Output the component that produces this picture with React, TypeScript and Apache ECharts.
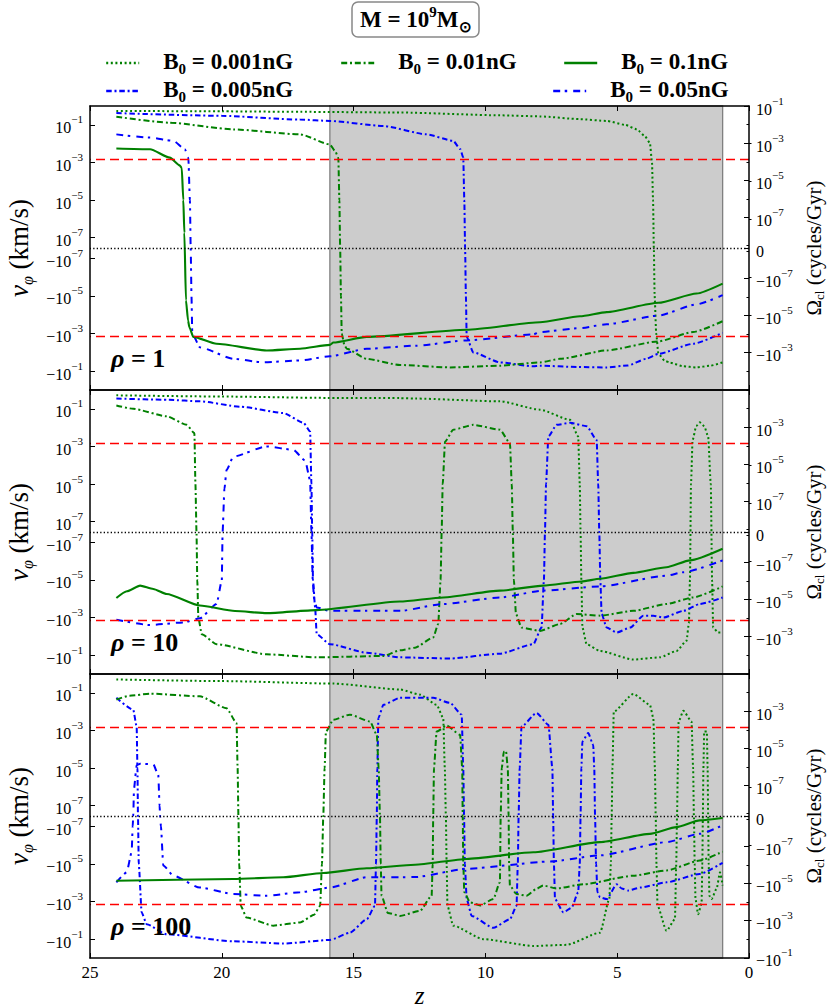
import React, { useEffect, useRef } from "react";
import * as echarts from "echarts";

type Pt = [number, number];

const FONT = "Liberation Serif";
const GREEN = "#008000";
const BLUE = "#0000ff";

// ---------- x axis ----------
const X_MIN = 0;
const X_MAX = 25;
const X_STEP = 5;
const SHADE_FROM = 15.9;
const SHADE_TO = 1.0;
const RED_LEVEL = 1.45e-3;

// ---------- tick values ----------
const LEFT_MAJOR = [1e-1, 1e-3, 1e-5, 1e-7, -1e-7, -1e-5, -1e-3, -1e-1];
const LEFT_MINOR = [1e-2, 1e-4, 1e-6, -1e-6, -1e-4, -1e-2];
const RIGHT_MAJOR_1 = [1e-1, 1e-3, 1e-5, 1e-7, 0, -1e-7, -1e-5, -1e-3];
const RIGHT_MAJOR_2 = [1e-3, 1e-5, 1e-7, 0, -1e-7, -1e-5, -1e-3];
const RIGHT_MAJOR_3 = [1e-3, 1e-5, 1e-7, 0, -1e-7, -1e-5, -1e-3, -1e-1];
const RIGHT_MINOR = [1e-1, 1e-2, 1e-4, 1e-6, 1e-8, -1e-8, -1e-6, -1e-4, -1e-2, -1e-1];

// ---------- legend ----------
const B_VALUES = ["0.001", "0.01", "0.1", "0.005", "0.05"];

// ---------- data: [z, v_phi (km/s)] ----------
// rho = 1
const rho1_B0001: Pt[] = [[24, 0.55], [20, 0.52], [17, 0.49], [13.2, 0.45], [9.45, 0.32], [7.93, 0.28], [6.41, 0.2], [5.4, 0.16], [4.7, 0.1], [4.26, 0.058], [3.95, 0.025], [3.76, 0.011], [3.68, 1e-3], [3.64, 1e-5], [3.61, 0], [3.58, -1e-5], [3.52, -1e-3], [3.44, -0.0115], [3.2, -0.028], [3.0, -0.035], [2.5, -0.055], [1.99, -0.063], [1.5, -0.052], [1.0, -0.034]];
const rho1_B0005: Pt[] = [[24, 0.42], [20, 0.3], [17.03, 0.19], [15.9, 0.16], [13.87, 0.087], [12.23, 0.031], [11.22, 0.014], [10.95, 5e-3], [10.84, 1.8e-3], [10.8, 1e-5], [10.77, 0], [10.74, -1e-5], [10.71, -1.5e-3], [10.46, -0.01], [9.45, -0.034], [8.18, -0.055], [7.93, -0.051], [6.5, -0.06], [5.4, -0.063], [4.6, -0.05], [3.9, -0.022], [3.44, -0.012], [2.12, -3.5e-3], [1.0, -9.1e-4]];
const rho1_B001: Pt[] = [[24, 0.27], [22, 0.13], [19.56, 0.057], [17.03, 0.031], [15.9, 9e-3], [15.7, 4e-3], [15.58, 1.8e-3], [15.54, 1e-5], [15.51, 0], [15.48, -1e-5], [15.45, -1e-3], [15.35, -4e-3], [15.26, -6.4e-3], [14.5, -0.022], [13.24, -0.047], [11.34, -0.063], [9.45, -0.051], [7.93, -0.034], [7.17, -0.022], [5.4, -7.9e-3], [3.44, -2.6e-3], [2.12, -8.3e-4], [1.0, -2.2e-4]];
const rho1_B005: Pt[] = [[24, 0.031], [22.72, 0.021], [21.84, 0.014], [21.4, 5e-3], [21.27, 1.8e-3], [21.21, 1e-5], [21.18, 0], [21.15, -1e-5], [21.12, -1e-3], [20.83, -5.4e-3], [19.56, -0.022], [18.43, -0.034], [17.03, -0.027], [15.9, -0.016], [14.5, -6.4e-3], [12.61, -4.4e-3], [10.71, -2.3e-3], [8.18, -1.1e-3], [7.93, -8.3e-4], [6.41, -5.1e-4], [5.4, -3.2e-4], [3.44, -1.1e-4], [1.99, -2.8e-5], [1.0, -9.1e-6]];
const rho1_B01: Pt[] = [[24, 5.5e-3], [22.72, 5e-3], [21.97, 1.8e-3], [21.6, 7e-4], [21.52, 5.1e-4], [21.46, 1e-5], [21.42, 1.8e-7], [21.36, -1.7e-5], [21.28, -2e-4], [21.23, -4.6e-4], [21.08, -1.5e-3], [20.2, -3.5e-3], [18.3, -7.9e-3], [17.03, -6.4e-3], [15.9, -4e-3], [15.77, -3e-3], [14.5, -1.5e-3], [10.71, -6.3e-4], [7.93, -2.5e-4], [6.41, -1.2e-4], [5.4, -7.2e-5], [3.44, -2.3e-5], [1.99, -7.4e-6], [1.0, -2.2e-6]];

// rho = 10
const rho10_B0001: Pt[] = [[24, 0.52], [20, 0.45], [16, 0.38], [13.24, 0.37], [12.67, 0.35], [9.45, 0.25], [7.93, 0.09], [6.79, 0.026], [6.48, 3.4e-3], [6.42, 1e-5], [6.39, 0], [6.36, -1e-5], [6.32, -3.4e-3], [6.16, -0.026], [5.65, -0.06], [4.39, -0.17], [3.38, -0.13], [2.75, -0.06], [2.37, -0.017], [2.28, -2e-3], [2.24, -1e-5], [2.2, 1e-5], [2.14, 2.2e-3], [2.0, 0.012], [1.87, 0.019], [1.7, 0.012], [1.55, 3.4e-3], [1.45, 1e-5], [1.4, -1e-5], [1.36, -3.4e-3], [1.17, -6.3e-3], [1.0, -6.3e-3]];
const rho10_B0005: Pt[] = [[24, 0.35], [22, 0.3], [20.83, 0.25], [19.3, 0.13], [17.67, 0.06], [16.9, 0.018], [16.65, 6.3e-3], [16.6, 1e-5], [16.57, 0], [16.54, -1e-5], [16.46, -2.9e-4], [16.4, -7.6e-3], [15.9, -0.026], [14.5, -0.074], [13.24, -0.13], [11.34, -0.15], [9.45, -0.083], [8.18, -0.026], [7.87, -3.4e-3], [7.78, -1e-5], [7.74, 0], [7.7, 1e-5], [7.61, 3.4e-3], [7.3, 0.014], [6.79, 0.018], [6.16, 0.012], [5.78, 2.2e-3], [5.72, 1e-5], [5.68, 0], [5.64, -1e-5], [5.59, -6.5e-4], [5.4, -3.4e-3], [5.02, -6.3e-3], [4.51, -3.4e-3], [4.01, -7.9e-4], [3.63, -7.9e-4], [3.25, -1e-3], [2.49, -4.4e-4], [1.87, -1.9e-4], [1.0, -8.5e-5]];
const rho10_B001: Pt[] = [[24, 0.15], [23.36, 0.1], [22.09, 0.04], [21.33, 0.014], [21.04, 5.1e-3], [21.0, 1e-5], [20.96, 0], [20.93, -1e-5], [20.89, -1e-3], [20.76, -7.6e-3], [20.2, -0.026], [18.3, -0.09], [16.4, -0.13], [13.87, -0.11], [13.24, -0.055], [12.67, -0.04], [11.98, -0.0115], [11.79, -2.2e-3], [11.7, -1e-5], [11.66, 0], [11.62, 1e-5], [11.53, 1.8e-3], [11.22, 7.8e-3], [10.46, 0.014], [9.45, 7.8e-3], [9.07, 1.5e-3], [9.0, 1e-5], [8.96, 0], [8.92, -1e-5], [8.84, -6.5e-4], [8.63, -3.4e-3], [7.93, -5.1e-3], [7.17, -2.2e-3], [6.54, -6.5e-4], [5.65, -7.9e-4], [4.39, -4.4e-4], [3.13, -1.9e-4], [2.12, -8.5e-5], [1.0, -2.2e-5]];
const rho10_B005: Pt[] = [[24, -1.3e-3], [22.72, -2.5e-3], [21.46, -1.8e-3], [20.83, -1.1e-3], [20.2, -1.9e-4], [20.0, -1.1e-5], [19.97, 0], [19.9, 5.6e-6], [19.82, 5.6e-5], [19.56, 2.9e-4], [18.3, 1e-3], [17.29, 6.6e-4], [16.84, 1.8e-4], [16.65, 1.6e-5], [16.6, 0], [16.55, -1e-5], [16.5, -1e-4], [16.4, -2.9e-4], [15.9, -4.4e-4], [14.5, -4.4e-4], [13.24, -4.4e-4], [11.6, -1.9e-4], [9.45, -8.5e-5], [7.81, -3.7e-5], [5.65, -2.2e-5], [3.13, -5.9e-6], [2.49, -3.9e-6], [1.0, -9.1e-7]];
const rho10_B01: Pt[] = [[24, -9.1e-5], [23.6, -4e-5], [23.1, -2e-5], [22.6, -3e-5], [22.09, -5.6e-5], [20.83, -2.3e-4], [19.5, -4.5e-4], [18.3, -5.8e-4], [16.4, -4e-4], [13.24, -1.4e-4], [11.6, -8.5e-5], [9.45, -3.7e-5], [7.81, -2e-5], [6.35, -1.2e-5], [5.65, -8.7e-6], [4.39, -4.2e-6], [3.13, -2.1e-6], [2.24, -9.1e-7], [1.0, -2.2e-7]];

// rho = 100
const rho100_B0001: Pt[] = [[24, 0.51], [20, 0.42], [15.77, 0.31], [13.24, 0.15], [12.48, 0.08], [11.85, 0.023], [11.6, 4.6e-3], [11.54, 1e-5], [11.5, 0], [11.47, -1e-5], [11.44, -1.7e-3], [11.22, -0.019], [10.08, -0.1], [8.18, -0.23], [6.92, -0.2], [5.65, -0.045], [5.3, -7.4e-4], [5.24, -1e-5], [5.21, 0], [5.18, 1e-5], [5.13, 0.01], [4.39, 0.087], [3.76, 0.023], [3.63, 4.6e-3], [3.57, 1e-5], [3.54, 0], [3.51, -1e-5], [3.47, -1.7e-3], [3.13, -0.036], [2.81, -8.7e-3], [2.76, -1e-5], [2.73, 0], [2.7, 1e-5], [2.67, 3e-3], [2.49, 0.011], [2.18, 3e-3], [2.12, 1e-5], [2.09, 0], [2.06, -1e-5], [2.03, -7.4e-4], [1.93, -4.7e-3], [1.8, -1.3e-3], [1.77, -1e-5], [1.75, 0], [1.73, 1e-5], [1.7, 8.7e-4], [1.6, 8.7e-4], [1.57, 1e-5], [1.55, 0], [1.53, -1e-5], [1.5, -5e-4], [1.42, -7.4e-4], [1.23, -2.1e-4], [1.1, -2.8e-5], [1.0, -1.4e-4]];
const rho100_B0005: Pt[] = [[24, 0.054], [23.36, 0.0126], [23.23, 1.6e-3], [23.2, 1e-5], [23.18, 0], [23.15, -1e-5], [23.04, -3.8e-3], [22.85, -0.016], [22.09, -0.055], [19.56, -0.13], [17.67, -0.17], [15.9, -0.11], [15.14, -0.045], [14.5, -8.7e-3], [14.19, -1.7e-3], [14.15, -1e-5], [14.12, 0], [14.1, 1e-5], [14.06, 4.6e-3], [13.87, 0.023], [13.24, 0.054], [11.98, 0.054], [11.34, 0.029], [10.9, 6.9e-3], [10.84, 1e-5], [10.81, 0], [10.78, -1e-5], [10.71, -7.4e-4], [10.52, -5.8e-3], [9.7, -0.025], [9.07, -8.7e-3], [8.82, -1.7e-3], [8.77, -1e-5], [8.74, 0], [8.7, 1e-5], [8.63, 1.6e-3], [8.06, 8.5e-3], [7.61, 2e-3], [7.46, 1e-5], [7.43, 0], [7.4, -1e-5], [7.36, -7.4e-4], [7.04, -3.8e-3], [6.73, -2.1e-3], [6.48, -3.2e-4], [6.42, -1e-5], [6.39, 0], [6.36, 1e-5], [6.32, 2.6e-4], [6.1, 7.2e-4], [5.91, 1.7e-4], [5.87, 1e-5], [5.84, 0], [5.8, -1e-5], [5.75, -3.2e-4], [5.65, -6e-4], [5.4, -7.4e-4], [5.02, -1.2e-4], [4.83, -2e-4], [4.58, -2.6e-4], [4.13, -1.8e-4], [3.13, -9.5e-5], [1.87, -3.4e-5], [1.0, -8.7e-6]];
const rho100_B001: Pt[] = [[24, 0.044], [23.5, 0.07], [22.72, 0.09], [20.83, 0.065], [19.82, 0.015], [19.44, 2.5e-3], [19.4, 1e-5], [19.37, 0], [19.34, -1e-5], [19.28, -1.7e-3], [19.06, -7.1e-3], [18.05, -0.019], [17.03, -0.013], [16.5, -5e-3], [16.27, -1.7e-3], [16.2, -1e-5], [16.15, 0], [16.1, 1e-5], [16.05, 8.7e-4], [15.77, 3.7e-3], [15.14, 6.9e-3], [14.38, 3e-3], [14.12, 5.9e-4], [14.05, 1e-5], [14.0, 0], [13.97, -1e-5], [13.94, -4.9e-4], [13.7, -4e-3], [13.24, -5.8e-3], [12.48, -3.1e-3], [12.04, -4.9e-4], [12.0, -1e-5], [11.98, 0], [11.95, 1e-5], [11.85, 8.7e-4], [11.47, 1.8e-3], [10.96, 5.9e-4], [10.88, 1e-5], [10.86, 0], [10.84, -1e-5], [10.8, -3.2e-4], [10.58, -1.1e-3], [10.2, -1.6e-3], [9.7, -7.4e-4], [9.45, -9.5e-5], [9.42, 0], [9.38, 1e-5], [9.3, 7.4e-5], [9.22, 8.2e-5], [9.15, 1e-5], [9.12, 0], [9.1, -1e-5], [9.07, -1.4e-4], [8.82, -4e-4], [8.44, -4.9e-4], [8.06, -2.1e-4], [7.81, -1.4e-4], [7.3, -2e-4], [6.29, -1.2e-4], [4.39, -4.2e-5], [3.13, -2.2e-5], [1.87, -6.6e-6], [1.0, -2.2e-6]];
const rho100_B005: Pt[] = [[24, -9.5e-5], [23.61, -2.8e-5], [23.42, -2.4e-6], [23.38, -1e-7], [23.36, 0], [23.33, 8.3e-7], [23.23, 1.4e-5], [23.1, 1.7e-5], [22.6, 1.6e-5], [22.41, 4.3e-6], [22.36, 1e-7], [22.34, 0], [22.31, -1e-7], [22.22, -1.2e-5], [21.84, -4.2e-5], [20.83, -1.8e-4], [19.56, -4e-4], [18.3, -4.9e-4], [17.03, -3.2e-4], [15.9, -1.8e-4], [14.5, -5.1e-5], [12.67, -5e-5], [10.71, -1.8e-5], [7.55, -7.4e-6], [5.65, -3.5e-6], [3.13, -6.9e-7], [1.87, -2.5e-7], [1.0, -9e-8]];
const rho100_B01: Pt[] = [[24, -7.8e-5], [19.56, -6.3e-5], [17.67, -5.1e-5], [16.15, -3e-5], [14.5, -1.7e-5], [12.67, -1.1e-5], [10.71, -5.4e-6], [8.18, -2.4e-6], [5.65, -6.9e-7], [3.76, -2.5e-7], [2.75, -1.1e-7], [1.87, -4.2e-8], [1.0, -1.9e-8]];

// ---------- symlog transform ----------
const LIN = 1e-7;
const L_LEFT = 0.55;
const L_RIGHT = 1.64;
const LEFT_LIM = L_LEFT + 7; // |v| = 1
const RIGHT_LIM = 7.65;

function symlog(v: number, L: number): number {
  const a = Math.abs(v);
  if (a < LIN) return (v / LIN) * L;
  return Math.sign(v) * (L + Math.log10(a / LIN));
}
function invSymlog(t: number, L: number): number {
  const a = Math.abs(t);
  if (a < L) return (t / L) * LIN;
  return Math.sign(t) * LIN * Math.pow(10, a - L);
}
function fmt(L: number) {
  return (t: number) => {
    const v = invSymlog(t, L);
    if (Math.abs(v) < 1e-10) return "{b|0}";
    const e = Math.round(Math.log10(Math.abs(v)));
    return `{b|${v < 0 ? "\u2212" : ""}10}{s|${e < 0 ? "\u2212" : ""}${Math.abs(e)}}`;
  };
}

const STYLES: Record<string, { color: string; dash: number[] | "solid"; width: number }> = {
  "0.001": { color: GREEN, dash: [2, 2.6], width: 2 },
  "0.005": { color: BLUE, dash: [5.5, 2.8, 2, 2.8], width: 2 },
  "0.01": { color: GREEN, dash: [6, 2.8, 2, 2.8], width: 2 },
  "0.05": { color: BLUE, dash: [7, 4.5, 2.5, 6], width: 2 },
  "0.1": { color: GREEN, dash: "solid", width: 2.1 },
};

const PANELS = [
  { rho: "1", right: RIGHT_MAJOR_1, curves: { "0.001": rho1_B0001, "0.005": rho1_B0005, "0.01": rho1_B001, "0.05": rho1_B005, "0.1": rho1_B01 } as Record<string, Pt[]> },
  { rho: "10", right: RIGHT_MAJOR_2, curves: { "0.001": rho10_B0001, "0.005": rho10_B0005, "0.01": rho10_B001, "0.05": rho10_B005, "0.1": rho10_B01 } as Record<string, Pt[]> },
  { rho: "100", right: RIGHT_MAJOR_3, curves: { "0.001": rho100_B0001, "0.005": rho100_B0005, "0.01": rho100_B001, "0.05": rho100_B005, "0.1": rho100_B01 } as Record<string, Pt[]> },
];

const GRID_TOPS = [106, 390, 674];
const GRID_H = 284;

const tickRich = {
  b: { fontFamily: FONT, fontSize: 16, lineHeight: 22, verticalAlign: "bottom", color: "#000" },
  s: { fontFamily: FONT, fontSize: 11, lineHeight: 10, verticalAlign: "top", color: "#000" },
};

function buildOption() {
  const grids: any[] = [];
  const xAxes: any[] = [];
  const yAxes: any[] = [];
  const series: any[] = [];
  const axisLineStyle = { color: "#000", width: 1.5 };

  PANELS.forEach((p, i) => {
    grids.push({ left: 90, width: 659, top: GRID_TOPS[i], height: GRID_H, containLabel: false, outerBoundsMode: "none" });
    const isLast = i === PANELS.length - 1;
    const xBase = {
      gridIndex: i, type: "value", min: X_MIN, max: X_MAX, interval: X_STEP, inverse: true,
      splitLine: { show: false }, z: 10,
      axisLine: { show: true, onZero: false, lineStyle: axisLineStyle },
      axisTick: { show: true, inside: true, length: 5, lineStyle: { color: "#000", width: 1 } },
    };
    xAxes.push({
      ...xBase, position: "bottom",
      axisLabel: { show: isLast, fontFamily: FONT, fontSize: 17, color: "#000", margin: 6 },
      name: isLast ? "z" : "", nameLocation: "middle", nameGap: 25,
      nameTextStyle: { fontFamily: FONT, fontStyle: "italic", fontSize: 25, color: "#000" },
    });
    xAxes.push({ ...xBase, position: "top", axisLabel: { show: false } });

    const yBase = { gridIndex: i, type: "value", splitLine: { show: false }, z: 10 };
    yAxes.push({
      ...yBase, position: "left", min: -LEFT_LIM, max: LEFT_LIM,
      axisLine: { show: true, onZero: false, lineStyle: axisLineStyle },
      axisTick: { show: true, inside: true, length: 5, customValues: LEFT_MAJOR.map((v) => symlog(v, L_LEFT)), lineStyle: { color: "#000" } },
      axisLabel: { show: true, customValues: LEFT_MAJOR.map((v) => symlog(v, L_LEFT)), formatter: fmt(L_LEFT), rich: tickRich, margin: 7 },
      name: "{i|v}{sub|\u03c6}{t| (km/s)}", nameLocation: "middle", nameRotate: 90, nameGap: 55,
      nameTextStyle: {
        rich: {
          i: { fontFamily: FONT, fontStyle: "italic", fontSize: 27, lineHeight: 30, verticalAlign: "top", color: "#000" },
          sub: { fontFamily: FONT, fontStyle: "italic", fontSize: 16, lineHeight: 14, verticalAlign: "bottom", color: "#000" },
          t: { fontFamily: FONT, fontSize: 27, lineHeight: 30, verticalAlign: "top", color: "#000" },
        },
      },
    });
    yAxes.push({
      ...yBase, position: "left", min: -LEFT_LIM, max: LEFT_LIM,
      axisLine: { show: false },
      axisTick: { show: true, inside: true, length: 2.5, customValues: LEFT_MINOR.map((v) => symlog(v, L_LEFT)), lineStyle: { color: "#000" } },
      axisLabel: { show: false },
    });
    yAxes.push({
      ...yBase, position: "right", min: -RIGHT_LIM, max: RIGHT_LIM,
      axisLine: { show: true, onZero: false, lineStyle: axisLineStyle },
      axisTick: { show: true, inside: true, length: 5, customValues: p.right.map((v) => symlog(v, L_RIGHT)), lineStyle: { color: "#000" } },
      axisLabel: { show: true, customValues: p.right.map((v) => symlog(v, L_RIGHT)), formatter: fmt(L_RIGHT), rich: tickRich, margin: 7 },
      name: "{t|\u03a9}{sub|cl}{t| (cycles/Gyr)}", nameLocation: "middle", nameRotate: 90, nameGap: 53,
      nameTextStyle: {
        rich: {
          sub: { fontFamily: FONT, fontSize: 13, lineHeight: 8, verticalAlign: "bottom", color: "#000" },
          t: { fontFamily: FONT, fontSize: 21, lineHeight: 22, verticalAlign: "top", color: "#000" },
        },
      },
    });
    yAxes.push({
      ...yBase, position: "right", min: -RIGHT_LIM, max: RIGHT_LIM,
      axisLine: { show: false },
      axisTick: { show: true, inside: true, length: 2.5, customValues: RIGHT_MINOR.map((v) => symlog(v, L_RIGHT)), lineStyle: { color: "#000" } },
      axisLabel: { show: false },
    });

    // shaded span + reference lines
    series.push({
      type: "line", name: "_ref" + i, xAxisIndex: 2 * i, yAxisIndex: 4 * i, data: [],
      silent: true, symbol: "none",
      markArea: {
        silent: true,
        itemStyle: { color: "#cccccc", borderColor: "#808080", borderWidth: 1.3 },
        data: [[{ xAxis: SHADE_FROM }, { xAxis: SHADE_TO }]],
      },
      markLine: {
        silent: true, symbol: ["none", "none"], label: { show: false }, animation: false,
        data: [
          { yAxis: symlog(RED_LEVEL, L_LEFT), lineStyle: { color: "#ff0000", type: [9, 5], width: 1.4 } },
          { yAxis: symlog(-RED_LEVEL, L_LEFT), lineStyle: { color: "#ff0000", type: [9, 5], width: 1.4 } },
          { yAxis: 0, lineStyle: { color: "#000", type: [1.3, 2.2], width: 1.3 } },
        ],
      },
    });

    ["0.001", "0.005", "0.01", "0.05", "0.1"].forEach((k) => {
      const st = STYLES[k];
      series.push({
        type: "line", name: k, xAxisIndex: 2 * i, yAxisIndex: 4 * i,
        data: p.curves[k].map(([z, v]) => [z, symlog(v, L_LEFT)]),
        symbol: "none", showSymbol: false, clip: true,
        smooth: 0.2, smoothMonotone: "x",
        lineStyle: { color: st.color, width: st.width, type: st.dash, cap: "butt" },
        itemStyle: { color: st.color },
        emphasis: { disabled: true },
      });
    });
  });

  const legendPos: Record<string, [number, number]> = {
    "0.001": [105, 50], "0.01": [340, 50], "0.1": [563, 50],
    "0.005": [105, 78], "0.05": [552, 78],
  };
  const legendRich = {
    p: { width: 19 },
    b: { fontFamily: FONT, fontWeight: "bold", fontSize: 23, lineHeight: 26, verticalAlign: "top", color: "#000" },
    s: { fontFamily: FONT, fontWeight: "bold", fontSize: 15, lineHeight: 12, verticalAlign: "bottom", color: "#000" },
  };
  const legends = B_VALUES.map((k) => ({
    data: [k], left: legendPos[k][0], top: legendPos[k][1], padding: 0,
    itemWidth: 33, itemHeight: 14, selectedMode: false, orient: "horizontal",
    itemStyle: { opacity: 0 },
    lineStyle: { width: 2.4 },
    formatter: (name: string) => `{p| }{b|B}{s|0}{b| = ${name}nG}`,
    textStyle: { rich: legendRich },
  }));

  const titleRich = {
    t: { fontFamily: FONT, fontSize: 23, lineHeight: 30, color: "#000" },
    sup: { fontFamily: FONT, fontSize: 15, lineHeight: 12, verticalAlign: "top", color: "#000" },
    sub: { fontFamily: FONT, fontSize: 15, lineHeight: 14, verticalAlign: "bottom", color: "#000" },
  };
  const rhoRich = {
    r: { fontFamily: FONT, fontWeight: "bold", fontStyle: "italic", fontSize: 26, color: "#000" },
    t: { fontFamily: FONT, fontWeight: "bold", fontSize: 26, color: "#000" },
  };
  const titles: any[] = [
    {
      text: "{t|M = 10}{sup|9}{t|M}{sub|\u2299}", left: 352, top: 2,
      padding: [2, 8, 3, 8], borderColor: "#888", borderWidth: 1.5, borderRadius: 6, backgroundColor: "#fff",
      textStyle: { rich: titleRich },
    },
  ];
  PANELS.forEach((p, i) => {
    titles.push({
      text: `{r|\u03c1}{t| = ${p.rho}}`, left: 111, top: GRID_TOPS[i] + 239, padding: 0,
      textStyle: { rich: rhoRich },
    });
  });

  return {
    animation: false,
    backgroundColor: "#fff",
    textStyle: { fontFamily: FONT },
    title: titles,
    legend: legends,
    grid: grids,
    xAxis: xAxes,
    yAxis: yAxes,
    series,
  };
}

export default function App() {
  const ref = useRef<HTMLDivElement>(null);
  useEffect(() => {
    if (!ref.current) return;
    const chart = echarts.init(ref.current, undefined, { renderer: "svg" });
    chart.setOption(buildOption() as any);
    return () => chart.dispose();
  }, []);
  return <div ref={ref} style={{ position: "fixed", left: 0, top: 0, width: 830, height: 1008 }} />;
}
